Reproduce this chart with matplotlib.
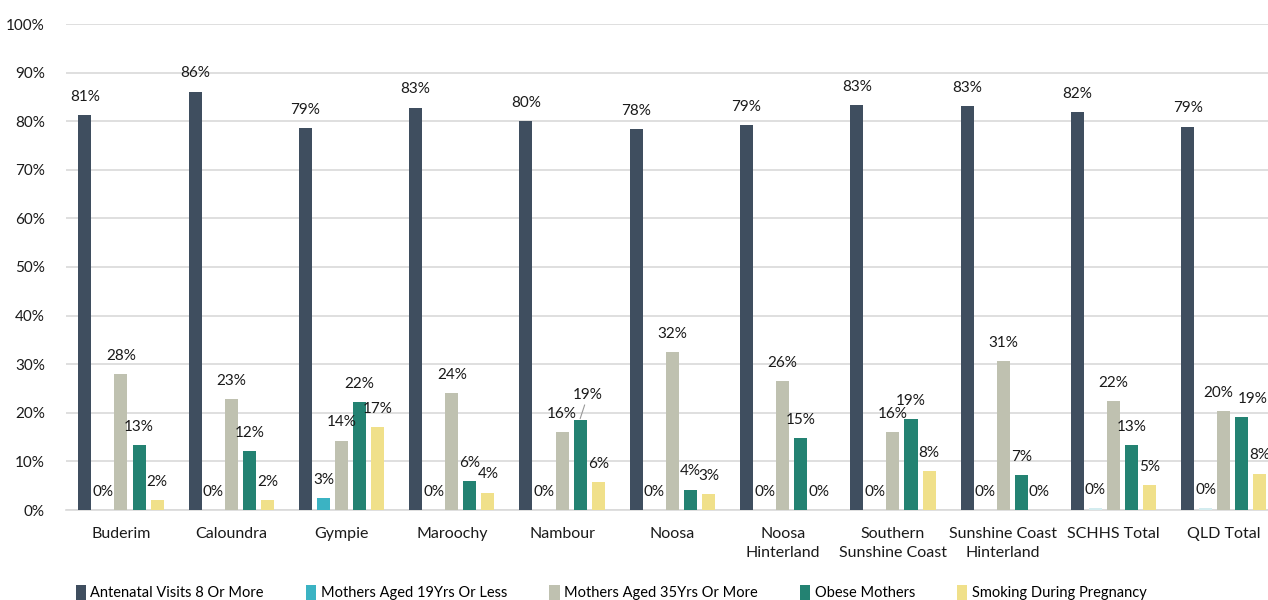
import matplotlib
matplotlib.use("Agg")
import matplotlib.pyplot as plt
import numpy as np
from matplotlib.patches import Patch

plt.rcParams['font.family'] = ['Lato', 'DejaVu Sans']

categories = ["Buderim", "Caloundra", "Gympie", "Maroochy", "Nambour", "Noosa",
              "Noosa\nHinterland", "Southern\nSunshine Coast", "Sunshine Coast\nHinterland",
              "SCHHS Total", "QLD Total"]
series_names = ["Antenatal Visits 8 Or More", "Mothers Aged 19Yrs Or Less",
                "Mothers Aged 35Yrs Or More", "Obese Mothers", "Smoking During Pregnancy"]
antenatal = [81.3, 86.1, 78.6, 82.8, 80.1, 78.3, 79.2, 83.4, 83.1, 81.9, 78.9]
aged19 = [0.0, 0.0, 2.5, 0.0, 0.0, 0.0, 0.0, 0.0, 0.0, 0.4, 0.4]
aged35 = [27.9, 22.8, 14.3, 24.0, 16.1, 32.5, 26.5, 16.1, 30.7, 22.5, 20.4]
obese = [13.3, 12.2, 22.2, 6.0, 18.6, 4.2, 14.8, 18.8, 7.2, 13.3, 19.1]
smoking = [2.0, 2.0, 17.0, 3.6, 5.7, 3.2, 0.0, 8.1, 0.0, 5.1, 7.5]
labels_19 = ["0%", "0%", "3%", "0%", "0%", "0%", "0%", "0%", "0%", "0%", "0%"]

colors = ["#3F4E5F", "#3BB3C3", "#BFC1B0", "#238272", "#F0E08A"]
cyan_light = "#D3ECEF"

data = [antenatal, aged19, aged35, obese, smoking]

fig = plt.figure(figsize=(12.68, 6.0), dpi=100)
ax = fig.add_axes([0.0519, 0.15, 0.9567, 0.81])

x = np.arange(len(categories))
step = 0.164
width = 0.118
# small horizontal nudges (in points) for crowded labels: (series, category) -> dx
nudges = {(2, 10): -4, (3, 10): 8}
for i, (vals, col) in enumerate(zip(data, colors)):
    pos = x + (i - 2) * step
    bar_cols = [col] * len(vals)
    if i == 1:
        bar_cols = [col if v >= 1 else cyan_light for v in vals]
    ax.bar(pos, vals, width=width, color=bar_cols, zorder=3)
    for j, (p, v) in enumerate(zip(pos, vals)):
        lab = labels_19[j] if i == 1 else f"{round(v):.0f}%"
        if i == 3 and j == 4:
            # Nambour obese label with leader line
            ax.annotate(lab, xy=(p, v + 0.2), xytext=(p + 0.07, v + 3.6),
                        ha='center', va='bottom', fontsize=11, color='#1a1a1a',
                        arrowprops=dict(arrowstyle='-', color='#999999', lw=0.8,
                                        shrinkA=0, shrinkB=0), zorder=4)
            continue
        dx = nudges.get((i, j), 0)
        ax.annotate(lab, xy=(p, v), xytext=(dx, 8), textcoords='offset points',
                    ha='center', va='bottom', fontsize=11, color='#1a1a1a', zorder=4)

ax.set_xlim(-0.5, len(categories) - 0.5)
ax.set_ylim(0, 100)
ax.set_yticks(np.arange(0, 101, 10))
ax.set_yticklabels([f"{t}%" for t in range(0, 101, 10)], fontsize=11, color='#1a1a1a')
ax.set_xticks(x)
ax.set_xticklabels(categories, fontsize=11.5, color='#1a1a1a', linespacing=1.5)
ax.tick_params(axis='both', length=0)
ax.tick_params(axis='y', pad=15)
ax.tick_params(axis='x', pad=12)
ax.grid(axis='y', color='#D9D9D9', linewidth=1.2, zorder=0)
for s in ['top', 'right', 'left']:
    ax.spines[s].set_visible(False)
ax.spines['bottom'].set_color('#D9D9D9')
ax.spines['bottom'].set_linewidth(1.2)

handles = [Patch(facecolor=c, edgecolor='none') for c in colors]
fig.legend(handles, series_names, loc='center', bbox_to_anchor=(0.482, 0.012),
           ncol=5, frameon=False, fontsize=10.5, handlelength=0.7, handleheight=1.2,
           handletextpad=0.3, columnspacing=2.9)

fig.savefig("out.png", dpi=100)
